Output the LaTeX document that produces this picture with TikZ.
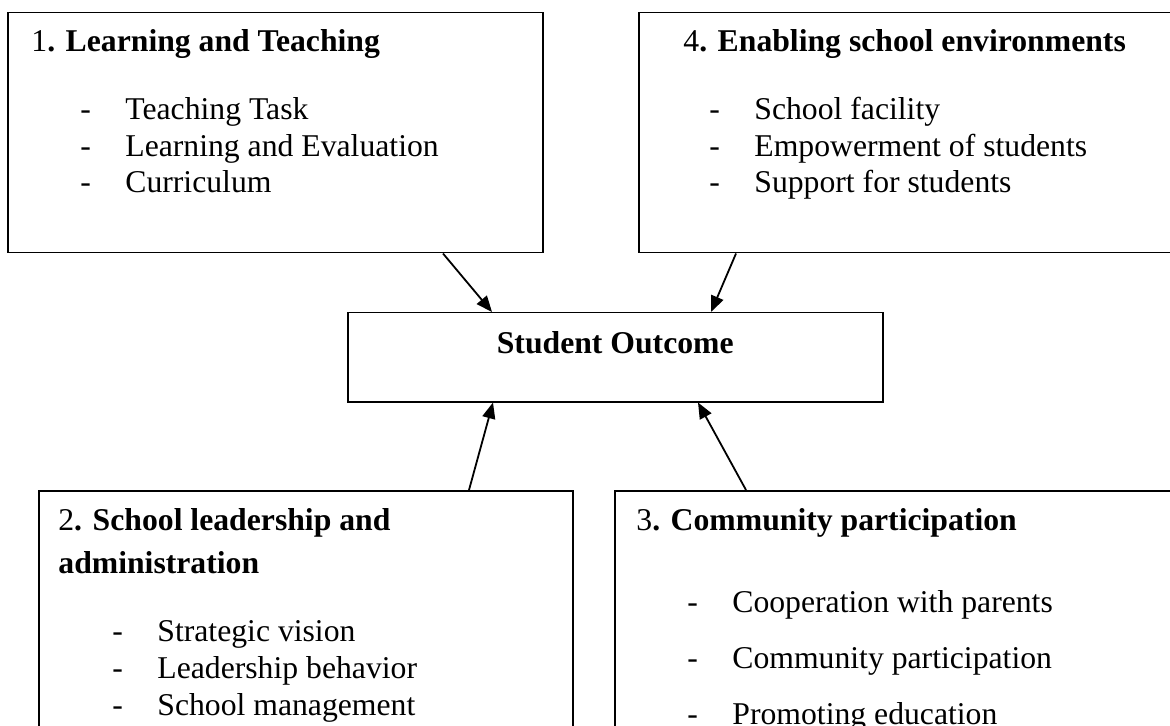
\documentclass[tikz,border=0pt]{standalone}
\usepackage{fontspec}
\setmainfont{Liberation Serif}
\usepackage{tikz}
\usetikzlibrary{calc,arrows.meta,positioning}

\newcommand{\boxfont}{\fontsize{15.85}{19}\selectfont}
\newcommand{\dashitem}[1]{\makebox[22.5pt][l]{-}#1}

\begin{document}
\begin{tikzpicture}[x=0.5pt, y=-0.5pt, font=\boxfont,
      box/.style={draw, rectangle, line width=0.75pt, inner sep=0pt, anchor=north west},
      head/.style={anchor=base west, inner sep=0pt},
      item/.style={anchor=base west, inner sep=0pt},
      arr/.style={-{Triangle[length=8pt, width=6.5pt]}, line width=0.9pt}]
    \useasboundingbox (0,0) rectangle (1170,726);
    \clip (0,0) rectangle (1170,726);

    \node (lt) [box, minimum width=267.5pt, minimum height=120pt] at (7,12) {};
    \node (es) [box, minimum width=267.5pt, minimum height=120pt] at (638,12) {};
    \node (so) [box, minimum width=267.5pt, text height=20.5pt, text depth=24pt] at (347,312) {\bfseries Student Outcome};
    \node (sl) [box, minimum width=267pt, minimum height=160pt] at (38,490) {};
    \node (cp) [box, minimum width=285pt, minimum height=160pt] at (614,490) {};

    \node (lt-head) [head] at (31,52) {1\textbf{. Learning and Teaching}};
    \node (lt-a) [item] at (80,120) {\dashitem{Teaching Task}};
    \node (lt-b) [item] at (80,157) {\dashitem{Learning and Evaluation}};
    \node (lt-c) [item] at (80,193) {\dashitem{Curriculum}};

    \node (es-head) [head] at (683,52) {4\textbf{. Enabling school environments}};
    \node (es-a) [item] at (709,120) {\dashitem{School facility}};
    \node (es-b) [item] at (709,157) {\dashitem{Empowerment of students}};
    \node (es-c) [item] at (709,193) {\dashitem{Support for students}};

    \node (sl-head) [head] at (58,530) {2\textbf{. School leadership and}};
    \node (sl-head2) [head] at (58,573) {\textbf{administration}};
    \node (sl-a) [item] at (112,641) {\dashitem{Strategic vision}};
    \node (sl-b) [item] at (112,678) {\dashitem{Leadership behavior}};
    \node (sl-c) [item] at (112,715) {\dashitem{School management}};

    \node (cp-head) [head] at (636,530) {3\textbf{. Community participation}};
    \node (cp-a) [item] at (687,612) {\dashitem{Cooperation with parents}};
    \node (cp-b) [item] at (687,668) {\dashitem{Community participation}};
    \node (cp-c) [item] at (687,724) {\dashitem{Promoting education}};

    \draw[arr] ($(lt.south west)+(436,0)$) -- ($(so.north west)+(145,0)$);
    \draw[arr] ($(es.south west)+(98,0)$) -- ($(so.north west)+(364,0)$);
    \draw[arr] ($(sl.north west)+(431,0)$) -- ($(so.south west)+(146,0)$);
    \draw[arr] ($(cp.north west)+(132,0)$) -- ($(so.south west)+(351,0)$);
\end{tikzpicture}
\end{document}
